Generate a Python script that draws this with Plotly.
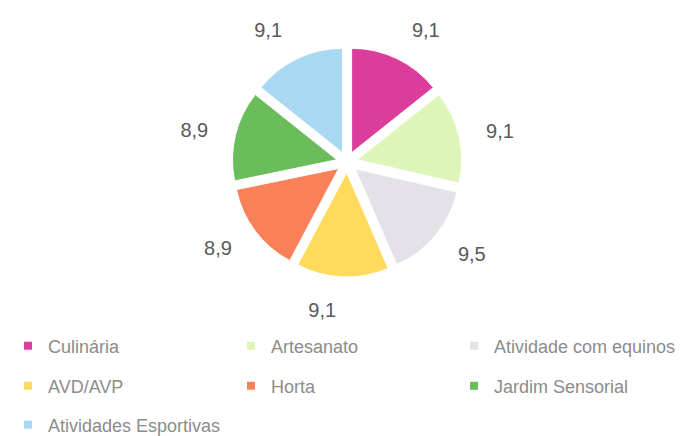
import plotly.graph_objects as go

categories = ["Culinária", "Artesanato", "Atividade com equinos", "AVD/AVP",
              "Horta", "Jardim Sensorial", "Atividades Esportivas"]
values = [9.1, 9.1, 9.5, 9.1, 8.9, 8.9, 9.1]
colors = ["#DC3D9C", "#DDF5B9", "#E4E2E8", "#FFDA5C", "#FA8058", "#6BBD5B", "#A9D9F2"]

# legend rows (3 entries per row, like the original)
legend_rows = [["Culinária", "Artesanato", "Atividade com equinos"],
               ["AVD/AVP", "Horta", "Jardim Sensorial"],
               ["Atividades Esportivas"]]

fig = go.Figure()

# transparent, slightly larger pie that only carries the value labels
fig.add_trace(go.Pie(
    labels=categories,
    values=values,
    sort=False,
    direction="clockwise",
    rotation=0,
    pull=0.1,
    marker=dict(colors=["rgba(0,0,0,0)"] * len(values), line=dict(width=0)),
    texttemplate="%{value:.1f}",
    textposition="outside",
    textfont=dict(color="#595959", size=20, family="Liberation Sans"),
    domain=dict(x=[0.2898, 0.6829], y=[0.3326, 0.9610]),
    hoverinfo="skip",
    showlegend=False,
))

# visible pie
fig.add_trace(go.Pie(
    labels=categories,
    values=values,
    sort=False,
    direction="clockwise",
    rotation=0,
    pull=0.1,
    marker=dict(colors=colors, line=dict(color="white", width=1)),
    textinfo="none",
    domain=dict(x=[0.3215, 0.6515], y=[0.383, 0.910]),
    hoverinfo="label+value",
    showlegend=False,
))

legend_names = ["legend", "legend2", "legend3"]
for ri, row in enumerate(legend_rows):
    for cat in row:
        i = categories.index(cat)
        fig.add_trace(go.Scatter(
            x=[None], y=[None], mode="markers", name=cat,
            marker=dict(symbol="square", size=8, color=colors[i]),
            legend=legend_names[ri], showlegend=True, hoverinfo="skip",
        ))

row_y_px = [338, 378, 417]
legend_common = dict(
    orientation="h",
    xref="paper", yref="paper",
    x=0.0, xanchor="left",
    yanchor="middle",
    entrywidth=178, entrywidthmode="pixels",
    itemwidth=30,
    font=dict(color="#8C8C8C", size=18, family="Liberation Sans"),
    bgcolor="rgba(0,0,0,0)",
)

layout_legends = {}
for name, ypx in zip(legend_names, row_y_px):
    layout_legends[name] = dict(legend_common, y=1 - ypx / 436)

fig.update_layout(
    width=697, height=436,
    margin=dict(l=0, r=0, t=0, b=0, autoexpand=False),
    paper_bgcolor="white",
    plot_bgcolor="white",
    separators=",.",
    xaxis=dict(visible=False),
    yaxis=dict(visible=False),
    **layout_legends,
)

fig.write_html("out.html")
